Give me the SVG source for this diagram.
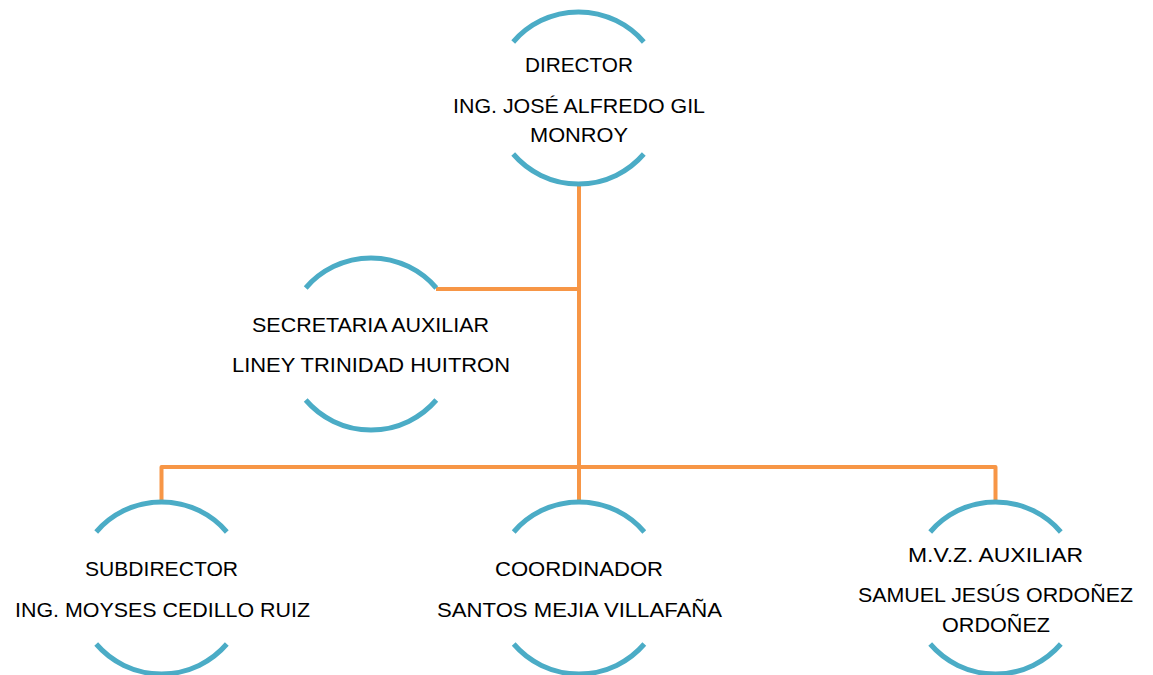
<svg xmlns="http://www.w3.org/2000/svg" width="1153" height="675" viewBox="0 0 1153 675">
<style>
.arc{fill:none;stroke:#4BACC6;stroke-width:5}
.con{fill:none;stroke:#F79646;stroke-width:4;stroke-linejoin:round}
text{font-family:"Liberation Sans",Arial,sans-serif;font-size:21px;fill:#000;text-anchor:middle}
</style>
<rect width="1153" height="675" fill="#fff"/>
<g id="connectors">
<path class="con" d="M579 184 V502"/>
<path class="con" d="M436 289 H579"/>
<path class="con" d="M161.5 502 V467 H995.5 V502"/>
</g>
<g id="director">
<path class="arc" d="M513.2 42 A86 86 0 0 1 643.8 42"/>
<path class="arc" d="M513.2 154 A86 86 0 0 0 643.8 154"/>
<text x="579" y="72" textLength="108" lengthAdjust="spacingAndGlyphs">DIRECTOR</text>
<text x="579" y="113" textLength="252" lengthAdjust="spacingAndGlyphs">ING. JOSÉ ALFREDO GIL</text>
<text x="579" y="142" textLength="98" lengthAdjust="spacingAndGlyphs">MONROY</text>
</g>
<g id="secretaria">
<path class="arc" d="M305.7 288 A86 86 0 0 1 436.3 288"/>
<path class="arc" d="M305.7 400 A86 86 0 0 0 436.3 400"/>
<text x="370.5" y="332" textLength="237" lengthAdjust="spacingAndGlyphs">SECRETARIA AUXILIAR</text>
<text x="371" y="372" textLength="278" lengthAdjust="spacingAndGlyphs">LINEY TRINIDAD HUITRON</text>
</g>
<g id="subdirector">
<path class="arc" d="M96.2 532 A86 86 0 0 1 226.8 532"/>
<path class="arc" d="M96.2 644 A86 86 0 0 0 226.8 644"/>
<text x="161.5" y="576" textLength="153" lengthAdjust="spacingAndGlyphs">SUBDIRECTOR</text>
<text x="162.5" y="617" textLength="295" lengthAdjust="spacingAndGlyphs">ING. MOYSES CEDILLO RUIZ</text>
</g>
<g id="coordinador">
<path class="arc" d="M513.7 532 A86 86 0 0 1 644.3 532"/>
<path class="arc" d="M513.7 644 A86 86 0 0 0 644.3 644"/>
<text x="579" y="576" textLength="168" lengthAdjust="spacingAndGlyphs">COORDINADOR</text>
<text x="579.5" y="617" textLength="285" lengthAdjust="spacingAndGlyphs">SANTOS MEJIA VILLAFAÑA</text>
</g>
<g id="mvz">
<path class="arc" d="M930.2 532 A86 86 0 0 1 1060.8 532"/>
<path class="arc" d="M930.2 644 A86 86 0 0 0 1060.8 644"/>
<text x="995.5" y="562" textLength="175" lengthAdjust="spacingAndGlyphs">M.V.Z. AUXILIAR</text>
<text x="995.5" y="602" textLength="275" lengthAdjust="spacingAndGlyphs">SAMUEL JESÚS ORDOÑEZ</text>
<text x="996" y="632" textLength="108" lengthAdjust="spacingAndGlyphs">ORDOÑEZ</text>
</g>
</svg>
